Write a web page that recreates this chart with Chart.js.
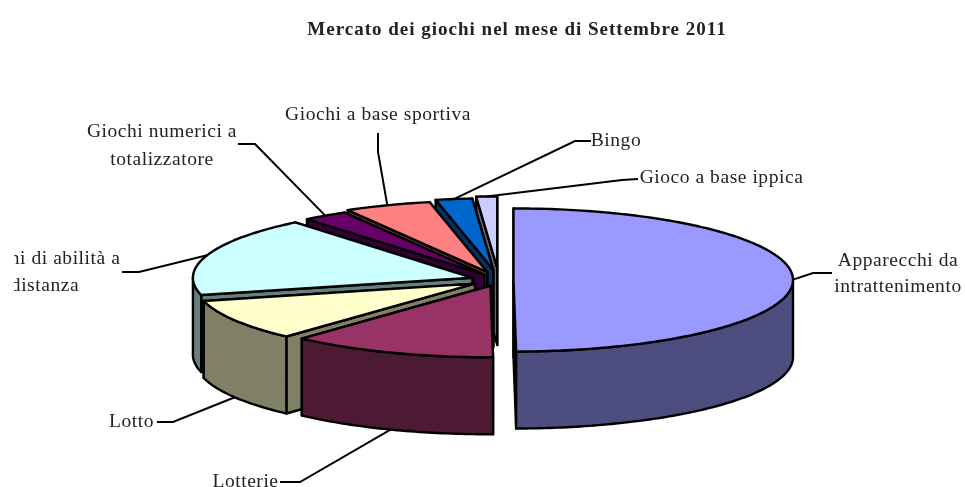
<!DOCTYPE html>
<html>
<head>
<meta charset="utf-8">
<title>Mercato dei giochi</title>
<style>
  html, body { margin: 0; padding: 0; background: #fff; }
  canvas { display: block; }
</style>
<script src="https://cdn.jsdelivr.net/npm/chart.js@4"></script>
</head>
<body>
<canvas id="pie" width="965" height="487"></canvas>
<script>
const chartTitle = "Mercato dei giochi nel mese di Settembre 2011";
const categories = [
  "Apparecchi da intrattenimento", "Lotterie", "Lotto", "Giochi di abilità a distanza",
  "Giochi numerici a totalizzatore", "Giochi a base sportiva", "Bingo", "Gioco a base ippica"
];
const values = [49.7, 11.9, 9.3, 17.9, 2.6, 5.0, 2.1, 1.2];

const topColors = ["#9999ff", "#993366", "#ffffcc", "#ccffff", "#660066", "#ff8080", "#0066cc", "#ccccff"];
const wallColors = ["#4d4d80", "#4d1a33", "#808066", "#668080", "#330033", "#804040", "#003366", "#666680"];
const explode = [14.5, 24, 28, 28, 26, 33, 40, 47];

const tilt = 0.256;    // altezza ellisse / larghezza
const depth = 77;      // spessore della torta in px
const lineW = 2.4;
const textColor = "#222";

// righe di testo, centro della prima riga, passo e spezzata del richiamo
const labelBoxes = [
  { lines: ["Apparecchi da", "intrattenimento"], x: 898, y: 261, gap: 26, leader: [[813, 273], [832, 273]] },
  { lines: ["Lotterie"], x: 245.5, y: 482, gap: 0, leader: [[300, 482], [280, 482]] },
  { lines: ["Lotto"], x: 131.5, y: 422, gap: 0, leader: [[173, 422], [157, 422]] },
  { lines: ["Giochi di abilità a", "distanza"], x: 45, y: 259, gap: 27, leader: [[139, 272], [122, 272]] },
  { lines: ["Giochi numerici a", "totalizzatore"], x: 162, y: 132, gap: 28, leader: [[255, 144], [238, 144]] },
  { lines: ["Giochi a base sportiva"], x: 378, y: 115, gap: 0, leader: [[378, 152], [378, 133]] },
  { lines: ["Bingo"], x: 616, y: 141, gap: 0, leader: [[575, 141], [591, 141]] },
  { lines: ["Gioco a base ippica"], x: 721.5, y: 178, gap: 0, leader: [[622, 180], [638, 179]] }
];

let centerY = 0;

function rimPoint(el, angle, drop) {
  return {
    x: el.x + Math.cos(angle) * el.outerRadius,
    y: centerY + tilt * (el.y - centerY + Math.sin(angle) * el.outerRadius) + drop
  };
}

function apexPoint(el, drop) {
  return { x: el.x, y: centerY + tilt * (el.y - centerY) + drop };
}

function fillStroke(ctx, pts, color) {
  ctx.beginPath();
  pts.forEach((p, i) => i ? ctx.lineTo(p.x, p.y) : ctx.moveTo(p.x, p.y));
  ctx.closePath();
  ctx.fillStyle = color;
  ctx.fill();
  ctx.stroke();
}

function arcPoints(el, from, to, drop) {
  const pts = [];
  const steps = Math.max(2, Math.ceil((to - from) * 60));
  for (let i = 0; i <= steps; i++) {
    pts.push(rimPoint(el, from + (to - from) * i / steps, drop));
  }
  return pts;
}

function drawWalls(ctx, el, color) {
  const a = apexPoint(el, 0), b = apexPoint(el, depth);
  [el.endAngle, el.startAngle].forEach(angle => {
    fillStroke(ctx, [a, rimPoint(el, angle, 0), rimPoint(el, angle, depth), b], color);
  });
  const from = Math.max(el.startAngle, 0), to = Math.min(el.endAngle, Math.PI);
  if (from < to) {
    const top = arcPoints(el, from, to, 0);
    const bottom = arcPoints(el, from, to, depth).reverse();
    fillStroke(ctx, top.concat(bottom), color);
  }
}

const pie3d = {
  id: "pie3d",
  // l'offset di Chart.js sposta solo di un quarto e allarga il raggio: spostiamo noi gli archi
  afterDatasetUpdate(chart, args) {
    centerY = (chart.chartArea.top + chart.chartArea.bottom) / 2;
    args.meta.data.forEach((el, i) => {
      const mid = (el.startAngle + el.endAngle) / 2;
      el.x += Math.cos(mid) * explode[i];
      el.y += Math.sin(mid) * explode[i];
    });
  },
  beforeDatasetDraw(chart, args) {
    const ctx = chart.ctx;
    const arcs = args.meta.data;
    ctx.save();
    ctx.strokeStyle = "#000";
    ctx.lineWidth = lineW;
    ctx.lineJoin = "round";
    // dal fondo verso chi guarda
    for (let i = arcs.length - 1; i >= 0; i--) {
      drawWalls(ctx, arcs[i], wallColors[i]);
    }
    ctx.restore();

    // le facce superiori le disegna Chart.js, schiacciate sull'ellisse
    ctx.save();
    ctx.translate(0, centerY);
    ctx.scale(1, tilt);
    ctx.translate(0, -centerY);
  },
  afterDatasetDraw(chart, args) {
    const ctx = chart.ctx;
    ctx.restore();
    ctx.save();
    ctx.strokeStyle = "#000";
    ctx.lineWidth = lineW;
    ctx.lineJoin = "round";
    args.meta.data.forEach(el => {
      const pts = [apexPoint(el, 0)].concat(arcPoints(el, el.startAngle, el.endAngle, 0));
      ctx.beginPath();
      pts.forEach((p, i) => i ? ctx.lineTo(p.x, p.y) : ctx.moveTo(p.x, p.y));
      ctx.closePath();
      ctx.stroke();
    });
    ctx.restore();
  },
  afterDraw(chart) {
    const ctx = chart.ctx;
    const arcs = chart.getDatasetMeta(0).data;
    ctx.save();
    ctx.strokeStyle = "#000";
    ctx.lineWidth = 2;

    // richiami
    labelBoxes.forEach((box, i) => {
      const el = arcs[i];
      const mid = (el.startAngle + el.endAngle) / 2;
      const start = rimPoint(el, mid, Math.sin(mid) > 0 ? depth : 0);
      ctx.beginPath();
      ctx.moveTo(start.x, start.y);
      box.leader.forEach(p => ctx.lineTo(p[0], p[1]));
      ctx.stroke();
    });

    ctx.fillStyle = textColor;
    ctx.textAlign = "center";
    ctx.textBaseline = "middle";
    ctx.font = 'bold 19px "Liberation Serif"';
    ctx.letterSpacing = "1px";
    ctx.fillText(chartTitle, 517, 30);

    // l'etichetta di sinistra nell'originale esce dal riquadro
    ctx.beginPath();
    ctx.rect(14, 0, 951, 487);
    ctx.clip();
    ctx.font = '19.5px "Liberation Serif"';
    ctx.letterSpacing = "0.55px";
    labelBoxes.forEach(box => {
      box.lines.forEach((line, n) => ctx.fillText(line, box.x, box.y + n * box.gap));
    });
    ctx.restore();
  }
};

new Chart(document.getElementById("pie"), {
  type: "pie",
  data: {
    labels: categories,
    datasets: [{
      data: values,
      backgroundColor: topColors,
      borderWidth: 0,
      clip: false
    }]
  },
  options: {
    responsive: false,
    animation: false,
    events: [],
    radius: 279.5,
    layout: { padding: { left: 33, top: 73 } },
    plugins: { legend: { display: false }, tooltip: { enabled: false } }
  },
  plugins: [pie3d]
});
</script>
</body>
</html>
